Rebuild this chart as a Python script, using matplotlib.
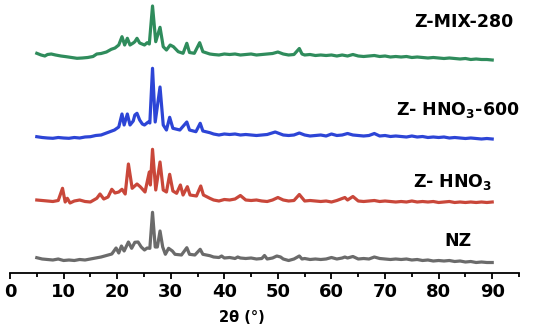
import matplotlib
matplotlib.use('Agg')
import matplotlib.pyplot as plt
from matplotlib.ticker import MultipleLocator

# stacked XRD patterns (offset intensity, a.u.)
nz_x = [5.0, 6, 7, 8, 9, 10, 11, 12, 13, 14, 15, 16, 17, 18, 19, 19.8, 20.3, 20.8, 21.3, 22.1,
        22.7, 23.3, 23.9, 24.5, 25.1, 25.6, 26.1, 26.6, 27.1, 27.5, 28.0, 28.5, 29.0, 29.6, 30.3,
        30.8, 32.0, 33.0, 33.5, 34.5, 35.5, 36.0, 37.3, 38, 39, 39.5, 40, 41, 42, 42.5, 43, 44, 45,
        46, 47, 47.5, 48, 49, 49.8, 50.5, 51, 52, 53, 54, 54.5, 55, 56, 57, 58, 59, 60, 61, 62,
        62.5, 63, 64, 65, 66, 67, 68, 69, 70, 71, 72, 73, 74, 75, 76, 77, 78, 79, 80, 81, 82, 83,
        84, 85, 86, 87, 88, 89, 90]
nz_y = [15.3, 14, 13.5, 13, 14, 12.5, 13, 12.5, 13.5, 13, 14, 15, 16, 17.5, 19, 25, 20, 27, 22, 31,
        24.7, 30.7, 31, 26, 23, 25, 24.7, 60.7, 26, 26, 42, 26, 18.7, 24.7, 22,
        18.7, 18, 25.3, 18.7, 18, 23.7, 18.7, 17.3, 16, 15.5, 17, 15, 15.5, 14.5, 16, 15, 14.5, 15,
        14, 14.5, 17.5, 14, 15, 17, 16, 14, 12.5, 14, 17, 14, 14.5, 13.5, 14, 13.5, 14, 15.5, 14, 15,
        16, 15, 16.5, 14, 14.5, 14, 16, 14.5, 14, 13.5, 14, 13.5, 14, 13, 13.5, 12.5, 13, 12, 12.5, 12, 12.5, 11.5,
        12, 11, 11.5, 10.5, 11, 10.5, 10.5]

hno3_x = [5.0, 6, 7, 8, 9, 9.8, 10.3, 10.7, 11.2, 12, 13, 14, 15, 16.2, 16.8, 17.5, 18.3, 19.0, 19.6,
          20.3, 20.9, 21.5, 22.1, 22.8, 23.7, 24.3, 25.2, 26.0, 26.2, 26.6, 27.2, 28.0, 28.6, 29.2,
          29.8, 30.4, 31.1, 31.8, 32.3, 33.1, 33.6, 34.8, 35.6, 36.1, 37.3, 38, 39, 40, 41, 42, 43,
          44, 45, 46, 47, 48, 49, 50, 51, 52, 53, 54, 55, 56, 57, 58, 59, 60, 61, 62.5, 63, 64, 65,
          66, 67, 68, 69, 70, 71, 72, 73, 74, 75, 76, 77, 78, 79, 80, 81, 82, 83, 84, 85, 86, 87,
          88, 89, 90]
hno3_y = [73, 72.5, 72, 71.5, 72.5, 84.7, 71, 74.7, 70, 72, 73, 71.5, 71, 74.7, 79, 74, 76, 83.7, 80,
          81, 83.7, 79, 109, 84.7, 89, 86.3, 81, 101, 88, 123.7, 83, 111, 83, 81,
          98.7, 82, 79.7, 88, 78, 86.3, 78, 77, 87, 78, 74.7, 73, 72, 73.5, 73, 74, 77.5,
          73, 72.5, 73, 72, 71.5, 73, 75.5, 73, 72, 72.5, 78.5, 72, 72.5, 72, 71.5, 72, 71, 72.5, 75.5, 73, 76.5, 72,
          71.5, 72, 72.5, 71.5, 72, 71.5, 71, 71.5, 71, 72, 71, 71.5, 71, 71.5, 70.5, 71, 71.5, 70.5, 71, 70.5, 71, 70.5,
          71, 70.5, 71]

hno3_600_x = [5.0, 6, 7, 8, 9, 10, 11, 12, 13, 14, 15, 16, 17, 18, 19, 19.5, 20.3, 20.9, 21.3, 21.9,
              22.4, 23.0, 23.3, 23.7, 24.2, 24.7, 25.1, 25.8, 26.1, 26.6, 27.1, 28.0, 28.6, 29.2, 29.8,
              30.4, 31.7, 33.0, 33.5, 34.7, 35.5, 36.0, 37.3, 38, 39, 40, 41, 42, 43, 44, 45, 46, 47,
              48, 49.5, 50.5, 51, 52, 53, 54, 55, 56, 57, 58, 59, 60, 61, 62, 63, 64, 65, 66, 67, 68,
              69, 70, 71, 72, 73, 74, 75, 76, 77, 78, 79, 80, 81, 82, 83, 84, 85, 86, 87, 88, 89, 90]
hno3_600_y = [136.3, 135.5, 135, 134.7, 135.5, 135, 134.7, 135.5, 135, 136, 136.3, 137.5, 138, 140, 142, 143, 146, 159, 148, 159,
              148, 152, 158, 159.7, 153, 149, 148, 151, 150, 204.7, 151, 186, 148, 143, 155.7,
              144.7, 143, 151, 143, 141.3, 149.7, 142, 140.3, 139, 138, 139, 138.5, 139, 138, 138.5, 138, 137.5, 138,
              138.5, 141, 139, 138, 137.5, 138, 140, 138, 137, 137.5, 138, 137, 139, 137.5, 138, 139.5, 138, 137.5, 137, 137.5, 139.5,
              137, 137.5, 136.5, 137, 136.5, 136, 137, 136, 136.5, 135.5, 136, 135.5, 136, 135, 135.5, 135, 134.5, 135, 134.5, 134, 134.5, 134]

mix_x = [5.0, 5.8, 6.5, 7, 7.7, 8.5, 9.5, 10.5, 11.5, 12.5, 13.5, 14.5, 15.5, 16.2, 17, 18, 18.9, 19.6,
         20.3, 20.9, 21.4, 21.9, 22.4, 23.0, 23.3, 23.7, 24.2, 25.1, 25.6, 26.0, 26.6, 27.2, 28.0,
         28.6, 29.2, 29.9, 30.5, 31.4, 32.3, 33.0, 33.5, 34.4, 35.4, 36.0, 37.3, 38, 39, 40, 41, 42,
         43, 44, 45, 46, 47, 48, 49, 50, 51, 52, 53, 54, 54.5, 55, 56, 57, 58, 59, 60, 61, 62, 63,
         64, 65, 66, 67, 68, 69, 70, 71, 72, 73, 74, 75, 76, 77, 78, 79, 80, 81, 82, 83, 84, 85,
         86, 87, 88, 89, 90]
mix_y = [219.7, 218, 217, 218.5, 219, 218, 217, 216.3, 215.5, 214.7, 215, 215.5, 216.5, 219, 219.5, 221, 223.7, 225,
         228, 236.3, 228, 234.7, 228, 230, 231.3, 234.7, 230, 228, 230.3, 229, 267, 231.3, 245.7,
         226.3, 223, 228, 226.3, 221.3, 219.7, 229.7, 220.5, 219.7, 230.3, 221.3, 219, 218.5, 218, 219, 218.5, 219,
         218, 218.5, 219, 218, 218.5, 219, 219.5, 221, 219, 218, 218.5, 224.5, 219, 218, 218.5, 217.5, 218, 217.5, 218, 217, 218, 217,
         218.5, 217, 216.5, 217, 217.5, 216.5, 217, 216, 216.5, 216, 216.5, 215.5, 216, 215.5, 215, 215.5, 215, 214.5, 215, 214.5, 214, 214.5,
         213.5, 214, 213.5, 213.5, 213]

series = [
    (nz_x, nz_y, '#6b6b6b', 'NZ'),
    (hno3_x, hno3_y, '#c9473a', r'Z- HNO$_\mathbf{3}$'),
    (hno3_600_x, hno3_600_y, '#2d45d6', r'Z- HNO$_\mathbf{3}$-600'),
    (mix_x, mix_y, '#2f8c5c', 'Z-MIX-280'),
]
label_pos = [(458, 241), (453, 182), (458, 110), (464, 22)]

fig = plt.figure(figsize=(5.5, 3.29), dpi=100)
ax = fig.add_axes([10 / 550, 56 / 329, 509 / 550, 273 / 329])

for (x, y, c, name), (lx, ly) in zip(series, label_pos):
    ax.plot(x, y, color=c, linewidth=2.3, solid_joinstyle='round')
    fig.text(lx / 550, 1 - ly / 329, name, ha='center', va='center',
             fontsize=12.5, fontweight='bold', color='black')

ax.set_xlim(0, 95)
ax.set_ylim(0, 273)
for s in ['left', 'right', 'top']:
    ax.spines[s].set_visible(False)
ax.spines['bottom'].set_linewidth(1.3)
ax.set_yticks([])
ax.xaxis.set_major_locator(MultipleLocator(10))
ax.xaxis.set_minor_locator(MultipleLocator(5))
ax.set_xticks(range(0, 91, 10))
ax.tick_params(axis='x', which='major', direction='out', length=4.5, width=1.3,
               pad=3, labelsize=13)
ax.tick_params(axis='x', which='minor', direction='out', length=3, width=1.3)
for t in ax.get_xticklabels():
    t.set_fontweight('bold')

fig.text(242 / 550, 1 - 317 / 329, '2θ (°)', ha='center', va='center',
         fontsize=10.5, fontweight='bold')

fig.savefig('out.png', dpi=100)
